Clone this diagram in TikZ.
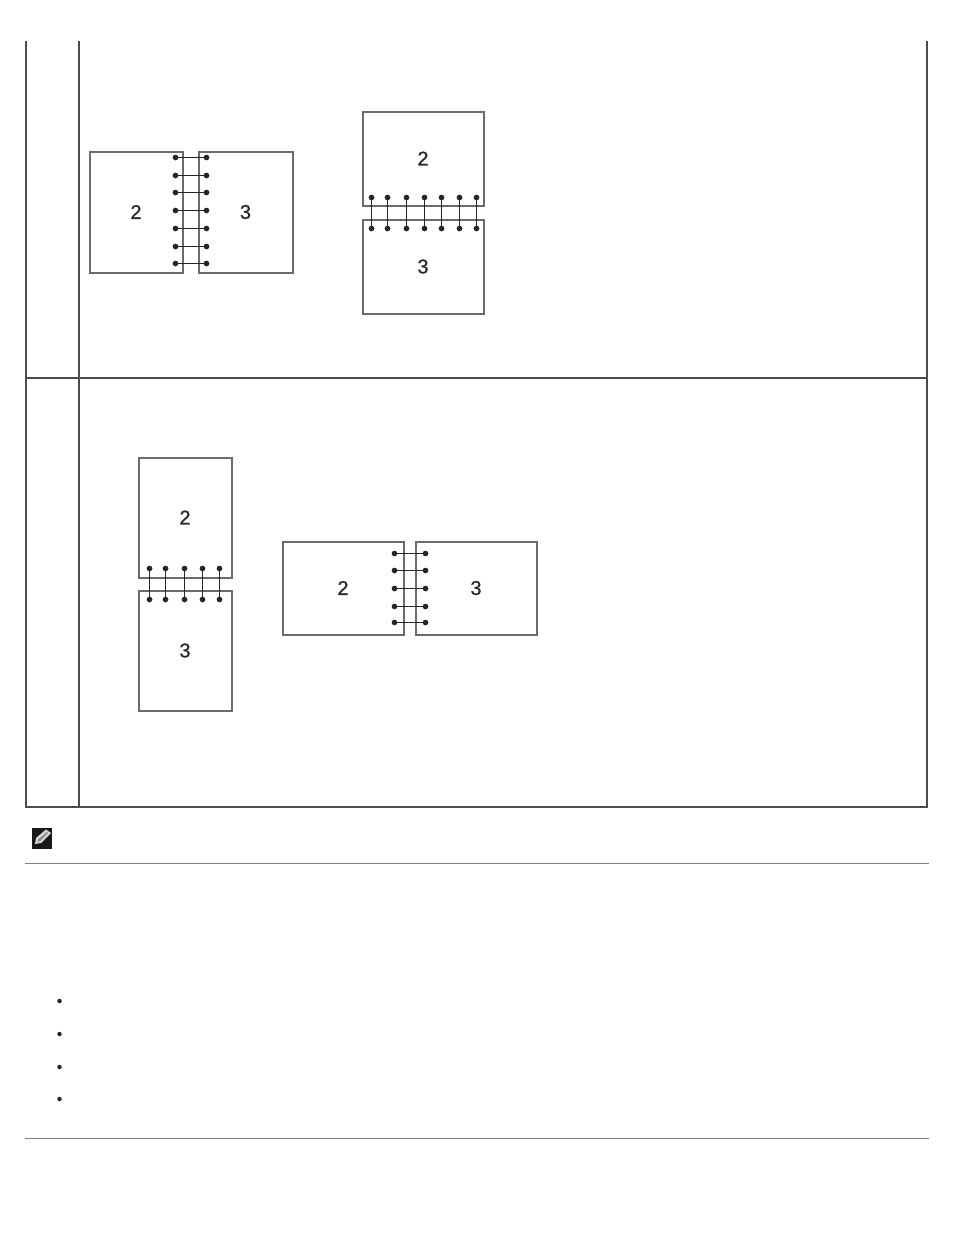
\documentclass[tikz,border=0pt]{standalone}
\usepackage{fontspec}
\setmainfont{Liberation Sans}
\newfontfamily\sheetfont[FakeBold=0.6]{Liberation Sans}
\usetikzlibrary{arrows.meta}
\definecolor{rulegray}{gray}{0.3}
\definecolor{sheetgray}{gray}{0.42}
\tikzset{
  sheet/.style={draw=sheetgray, line width=2pt, fill=white, inner sep=0pt, text=black!85, font=\sheetfont\fontsize{20}{20}\selectfont},
  ringline/.style={black!85, line width=1.4pt, {Circle[length=5.6pt,width=5.6pt]}-{Circle[length=5.6pt,width=5.6pt]}, shorten >=-2.8pt, shorten <=-2.8pt},
  tableline/.style={rulegray, line width=2pt},
  sepline/.style={black!50, line width=1pt},
  bulletdot/.style={circle, fill=black!85, inner sep=0pt, minimum size=4.5pt}
}
\begin{document}
\begin{tikzpicture}[x=1pt,y=-1pt]

  \useasboundingbox (0,0) rectangle (954,1235);

  % table
  \draw[tableline] (26,41) -- (26,807) -- (927,807) -- (927,41); % outer frame
  \draw[tableline] (79,41) -- (79,807); % column rule
  \draw[tableline] (26,377.5) -- (927,377.5); % row rule

  % first row, side by side
  \node[sheet, minimum width=93pt, minimum height=121pt] (firstLeft) at (136,212) {2};
  \node[sheet, minimum width=94pt, minimum height=121pt] (firstRight) at (245.5,212) {3};
  \draw[ringline] (175.5,157.5) -- (206.5,157.5);
  \draw[ringline] (175.5,175.5) -- (206.5,175.5);
  \draw[ringline] (175.5,192.5) -- (206.5,192.5);
  \draw[ringline] (175.5,210.5) -- (206.5,210.5);
  \draw[ringline] (175.5,228.5) -- (206.5,228.5);
  \draw[ringline] (175.5,246.5) -- (206.5,246.5);
  \draw[ringline] (175.5,263.5) -- (206.5,263.5);

  % first row, stacked
  \node[sheet, minimum width=121pt, minimum height=94pt] (firstTop) at (423,158.5) {2};
  \node[sheet, minimum width=121pt, minimum height=94pt] (firstBottom) at (423,266.5) {3};
  \draw[ringline] (371.5,197.5) -- (371.5,228.5);
  \draw[ringline] (387.5,197.5) -- (387.5,228.5);
  \draw[ringline] (406.5,197.5) -- (406.5,228.5);
  \draw[ringline] (424.5,197.5) -- (424.5,228.5);
  \draw[ringline] (441.5,197.5) -- (441.5,228.5);
  \draw[ringline] (459.5,197.5) -- (459.5,228.5);
  \draw[ringline] (476.5,197.5) -- (476.5,228.5);

  % second row, stacked
  \node[sheet, minimum width=93pt, minimum height=120pt] (secondTop) at (185,517.5) {2};
  \node[sheet, minimum width=93pt, minimum height=120pt] (secondBottom) at (185,650.5) {3};
  \draw[ringline] (149.5,568.5) -- (149.5,599.5);
  \draw[ringline] (165.5,568.5) -- (165.5,599.5);
  \draw[ringline] (184.5,568.5) -- (184.5,599.5);
  \draw[ringline] (202.5,568.5) -- (202.5,599.5);
  \draw[ringline] (219.5,568.5) -- (219.5,599.5);

  % second row, side by side
  \node[sheet, minimum width=121pt, minimum height=93pt] (secondLeft) at (343,588) {2};
  \node[sheet, minimum width=121pt, minimum height=93pt] (secondRight) at (476,588) {3};
  \draw[ringline] (394.5,553.5) -- (425.5,553.5);
  \draw[ringline] (394.5,570.5) -- (425.5,570.5);
  \draw[ringline] (394.5,588.5) -- (425.5,588.5);
  \draw[ringline] (394.5,606.5) -- (425.5,606.5);
  \draw[ringline] (394.5,622.5) -- (425.5,622.5);

  % note icon
  \fill[black!90] (32,828) rectangle (52,849);
  \fill[white!85!black] (35,844) -- (36,838) -- (46,829.5) -- (51,833) -- (41,843) -- cycle;
  \fill[black!45] (37.5,842) -- (38,839.5) -- (47,832) -- (48,833) -- (40,841) -- cycle;

  % separators
  \draw[sepline] (25,863.5) -- (929,863.5);
  \draw[sepline] (25,1138.5) -- (929,1138.5);

  % bullets
  \node[bulletdot] (bulletA) at (59.5,1001) {};
  \node[bulletdot] (bulletB) at (59.5,1034) {};
  \node[bulletdot] (bulletC) at (59.5,1067) {};
  \node[bulletdot] (bulletD) at (59.5,1099) {};

\end{tikzpicture}
\end{document}
